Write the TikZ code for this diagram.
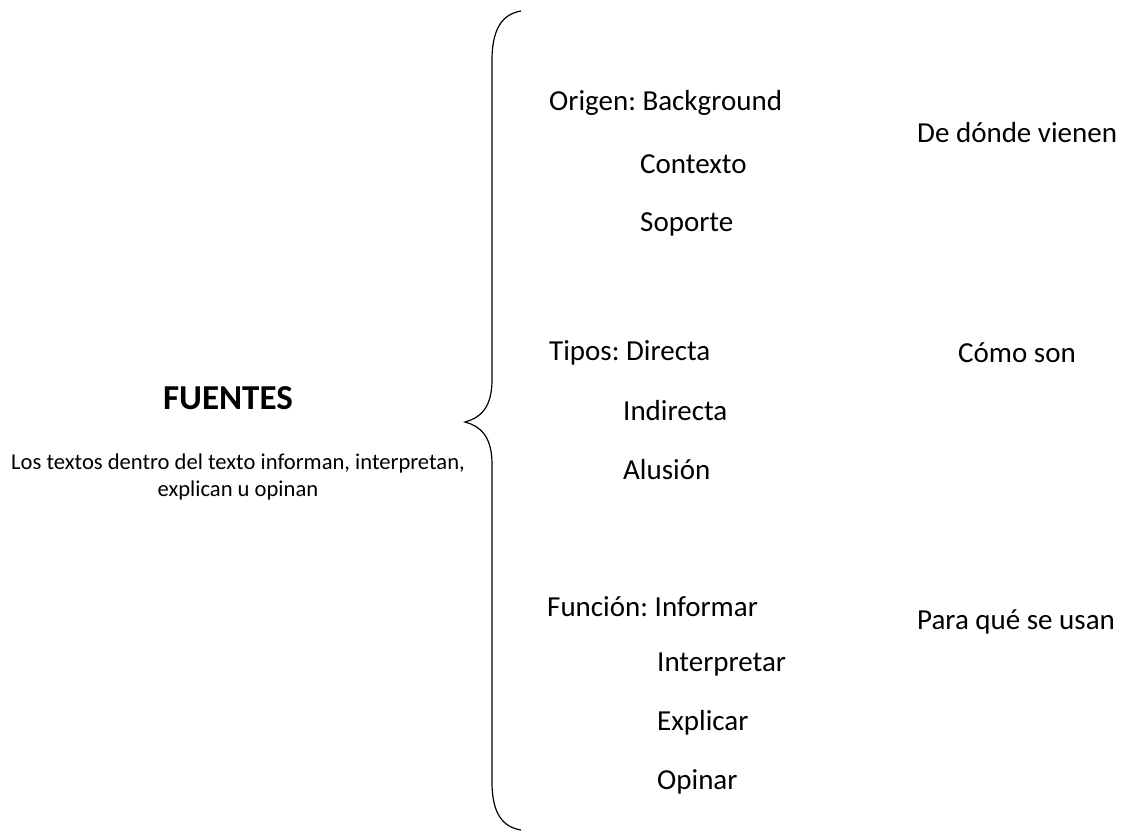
\documentclass[tikz,border=0pt]{standalone}
\usepackage{fontspec}
\setmainfont{Carlito}
\usetikzlibrary{calc}
\frenchspacing

\begin{document}
\begin{tikzpicture}[x=1pt, y=-1pt,
  item/.style={anchor=west, inner sep=0pt, font=\fontsize{29}{35}\selectfont},
  title/.style={inner sep=0pt, font=\fontsize{35}{42}\selectfont\bfseries},
  note/.style={inner sep=0pt, align=center, font=\fontsize{22.6}{27.5}\selectfont}
]
\useasboundingbox (0,0) rectangle (1125,832);

% Left block
\node[title] at (228,398) (fuentes) {FUENTES};
\node[note]  at (238,477) (desc)    {Los textos dentro del texto informan, interpretan,\\explican u opinan};

% Brace
\draw[line width=1.2pt]
  (521,11) .. controls (503,14) and (492,28) .. (492,60)
  -- (492,380) .. controls (492,408) and (480,418) .. (465,422)
  .. controls (480,426) and (492,436) .. (492,464)
  -- (492,782) .. controls (492,814) and (503,827) .. (521,830);

% Origen
\node[item] at (549,103) (origen)   {Origen: Background};
\node[item] at (640,164) (contexto) {Contexto};
\node[item] at (640,224) (soporte)  {Soporte};
\node[item] at (917,133) (vienen)   {De dónde vienen};

% Tipos
\node[item] at (549,353) (tipos)     {Tipos: Directa};
\node[item] at (623,411) (indirecta) {Indirecta};
\node[item] at (623,470) (alusion)   {Alusión};
\node[item] at (958,353) (son)       {Cómo son};

% Funcion
\node[item] at (547,607) (funcion)     {Función: Informar};
\node[item] at (657,665) (interpretar) {Interpretar};
\node[item] at (657,723) (explicar)    {Explicar};
\node[item] at (657,782) (opinar)      {Opinar};
\node[item] at (917,622) (usan)        {Para qué se usan};
\end{tikzpicture}
\end{document}
